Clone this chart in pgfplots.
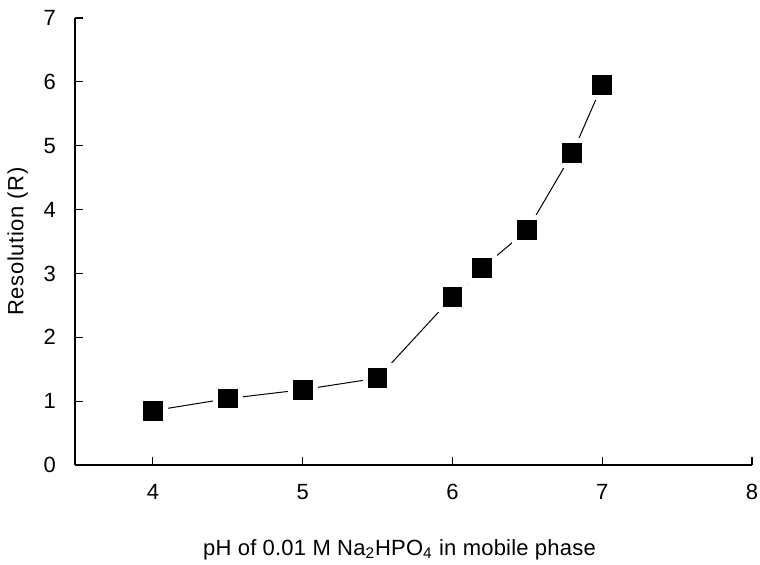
\documentclass[border=0pt]{standalone}
\usepackage{fontspec}
\setmainfont{Liberation Sans}
\usepackage{pgfplots}
\pgfplotsset{compat=1.18}
\begin{document}
\begin{tikzpicture}
\begin{axis}[
  at={(0,0)}, anchor=south west,
  scale only axis,
  width=338.5pt, height=223.5pt,
  xmin=3.48, xmax=8, ymin=0, ymax=7,
  axis lines*=left,
  tick align=inside,
  major tick length=4pt,
  xtick={4,5,6,7,8}, ytick={0,1,2,3,4,5,6,7},
  /pgf/number format/assume math mode=true,
  ticklabel style={font=\fontsize{11}{13}\selectfont},
  xticklabel style={yshift=-6pt},
  yticklabel style={xshift=-6pt},
  axis line style={line width=0.6pt},
  tick style={line width=0.6pt, black},
  xlabel={pH of 0.01 M Na\textsubscript{2}HPO\textsubscript{4} in mobile phase},
  ylabel={Resolution (R)},
  xlabel style={font=\fontsize{11}{13}\selectfont\addfontfeatures{LetterSpace=1}, yshift=-13pt, xshift=-7pt},
  ylabel style={font=\fontsize{11}{13}\selectfont\addfontfeatures{LetterSpace=3}, yshift=1pt},
  clip=false,
]
\addplot[black, line width=0.5pt, mark=square*,
  mark options={fill=black, draw=white, line width=2.5pt},
  mark size=6.2pt] coordinates {
  (4.0,0.85) (4.5,1.04) (5.0,1.18) (5.5,1.36) (6.0,2.63)
  (6.2,3.09) (6.5,3.68) (6.8,4.88) (7.0,5.95)
};
\end{axis}
\pgfresetboundingbox
\useasboundingbox (-37.5pt,-49.5pt) rectangle (342.5pt,232.5pt);
\end{tikzpicture}
\end{document}
